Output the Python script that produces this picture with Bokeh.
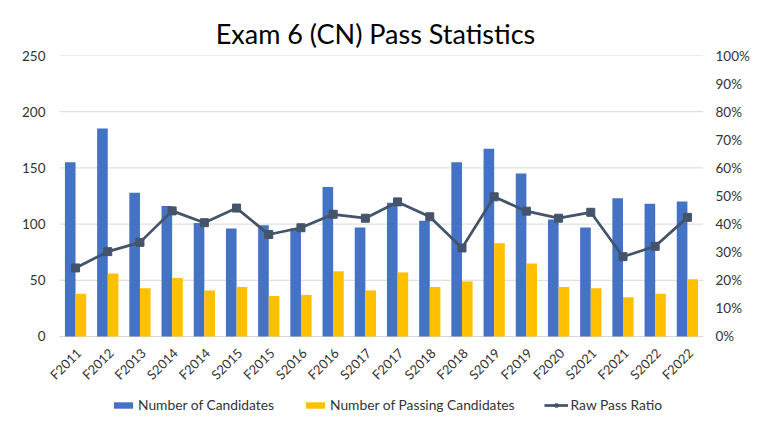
from math import pi
from bokeh.plotting import figure
from bokeh.models import (ColumnDataSource, Range1d, LinearAxis, FixedTicker,
                          NumeralTickFormatter, Legend, LegendItem)
from bokeh.core.properties import value
from bokeh.transform import dodge
from bokeh.embed import file_html
from bokeh.resources import INLINE

terms = ["F2011", "F2012", "F2013", "S2014", "F2014", "S2015", "F2015", "S2016", "F2016", "S2017",
         "F2017", "S2018", "F2018", "S2019", "F2019", "F2020", "S2021", "F2021", "S2022", "F2022"]
candidates = [155, 185, 128, 116, 101, 96, 99, 96, 133, 97, 119, 103, 155, 167, 145, 104, 97, 123, 118, 120]
passing = [38, 56, 43, 52, 41, 44, 36, 37, 58, 41, 57, 44, 49, 83, 65, 44, 43, 35, 38, 51]
pass_ratio = [0.244, 0.302, 0.335, 0.447, 0.405, 0.457, 0.363, 0.387, 0.435, 0.421, 0.479, 0.426,
              0.315, 0.497, 0.446, 0.421, 0.442, 0.284, 0.321, 0.424]
left_ticks = [0, 50, 100, 150, 200, 250]
pct_ticks = [0.0, 0.1, 0.2, 0.3, 0.4, 0.5, 0.6, 0.7, 0.8, 0.9, 1.0]

FONT = "Lato"
TXT = "#333333"

n = len(terms)
pos = list(range(n))          # category slot positions
# frame runs to the bottom of the canvas; values below 0 hold the category labels and legend
Y_MIN = -69.4
Y_MAX = 250
X_MIN = -0.5 - 0.371          # a little room left of the first slot for its slanted label
X_MAX = n - 0.5

src = ColumnDataSource(dict(pos=pos, terms=terms, candidates=candidates, passing=passing,
                            ratio=pass_ratio, label_y=[-12.5] * n))
grid_src = ColumnDataSource(dict(y=left_ticks, x0=[-0.5] * len(left_ticks),
                                 x1=[n - 0.5] * len(left_ticks)))

p = figure(x_range=Range1d(X_MIN, X_MAX), y_range=Range1d(Y_MIN, Y_MAX),
           width=752, height=414, output_backend="svg", toolbar_location=None,
           title="Exam 6 (CN) Pass Statistics",
           min_border_left=47, min_border_right=46, min_border_top=55, min_border_bottom=0)
p.extra_y_ranges = {"pct": Range1d(Y_MIN / Y_MAX, 1)}

p.title.text_font = FONT
p.title.text_font_size = "27px"
p.title.text_font_style = "normal"
p.title.text_color = "black"
p.title.align = "center"
p.title.standoff = 12

# horizontal gridlines spanning only the category slots
p.segment(x0="x0", x1="x1", y0="y", y1="y", source=grid_src, line_color="#D9D9D9", line_width=1)

b1 = p.vbar(x=dodge("pos", -0.165), top="candidates", width=0.33, source=src,
            fill_color="#4472C4", line_color=None)
b2 = p.vbar(x=dodge("pos", 0.165), top="passing", width=0.33, source=src,
            fill_color="#FFC000", line_color=None)
ln = p.line(x="pos", y="ratio", source=src, y_range_name="pct", line_color="#44546A", line_width=2.75)
sc = p.scatter(x="pos", y="ratio", source=src, y_range_name="pct", marker="square", size=8,
               fill_color="#44546A", line_color="#44546A")

# rotated category labels
p.text(x=dodge("pos", 0.1), y="label_y", text="terms", source=src,
       angle=pi / 4, text_align="right", text_baseline="middle",
       text_font=value(FONT), text_font_size="13px", text_color=TXT)

right = LinearAxis(y_range_name="pct", ticker=FixedTicker(ticks=pct_ticks),
                   formatter=NumeralTickFormatter(format="0%"))
p.add_layout(right, "right")

p.yaxis[0].ticker = FixedTicker(ticks=left_ticks)
for ax in [p.yaxis[0], right]:
    ax.axis_line_color = None
    ax.major_tick_line_color = None
    ax.minor_tick_line_color = None
    ax.major_tick_out = 0
    ax.major_label_text_font = FONT
    ax.major_label_text_font_size = "13.5px"
    ax.major_label_text_color = TXT
p.yaxis[0].major_label_standoff = 2
right.major_label_standoff = 12

p.xaxis.visible = False
p.xgrid.grid_line_color = None
p.ygrid.grid_line_color = None
p.outline_line_color = None

legend = Legend(items=[LegendItem(label="Number of Candidates", renderers=[b1]),
                       LegendItem(label="Number of Passing Candidates", renderers=[b2]),
                       LegendItem(label="Raw Pass Ratio", renderers=[ln, sc])],
                orientation="horizontal", location=(64, 1))
legend.border_line_color = None
legend.background_fill_alpha = 0
legend.label_text_font = FONT
legend.label_text_font_size = "13.8px"
legend.label_text_color = TXT
legend.glyph_width = 24
legend.glyph_height = 8
legend.spacing = 29
legend.label_standoff = 3
legend.padding = 0
legend.margin = 0
p.add_layout(legend)

open("out.html", "w").write(file_html(p, INLINE))
